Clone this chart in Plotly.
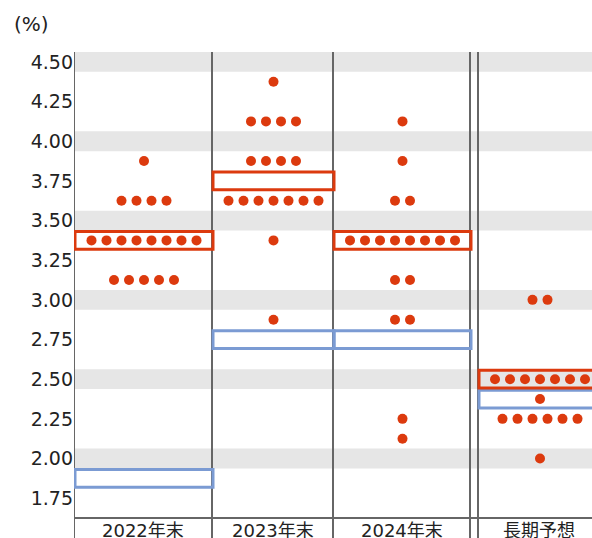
import plotly.graph_objects as go

# ---------------- data ----------------
categories = ["2022年末", "2023年末", "2024年末", "長期予想"]

levels_2022 = [3.875, 3.625, 3.375, 3.125]
counts_2022 = [1, 4, 8, 5]

levels_2023 = [4.375, 4.125, 3.875, 3.625, 3.375, 2.875]
counts_2023 = [1, 4, 4, 7, 1, 1]

levels_2024 = [4.125, 3.875, 3.625, 3.375, 3.125, 2.875, 2.25, 2.125]
counts_2024 = [1, 1, 2, 8, 2, 2, 1, 1]

levels_lr = [3.0, 2.5, 2.375, 2.25, 2.0]
counts_lr = [2, 7, 1, 6, 1]

median_current = [3.375, 3.75, 3.375, 2.5]
median_previous = [1.875, 2.75, 2.75, 2.375]

y_ticks = [1.75, 2.00, 2.25, 2.50, 2.75, 3.00, 3.25, 3.50, 3.75, 4.00, 4.25, 4.50]
band_centers = [2.00, 2.50, 3.00, 3.50, 4.00, 4.50]

# ---------------- layout constants (pixel-like x units) ----------------
col_left = [0, 138, 259, 404]
col_right = [138, 259, 396, 526]
separators = [0, 138, 259, 396, 404]
dot_step = 15
dot_shift = 1
box_half = 0.056
band_half = 0.0625

RED = "#dc3a0e"
BLUE = "#7b9bd3"
GRID = "#e6e6e6"
LINE = "#666666"
TXT = "#222222"
FONT = "DejaVu Sans, Noto Sans CJK JP, sans-serif"

W, H = 592, 538
ML, MR, MT, MB = 74, 0, 52, 20

fig = go.Figure()

all_levels = [levels_2022, levels_2023, levels_2024, levels_lr]
all_counts = [counts_2022, counts_2023, counts_2024, counts_lr]

shapes = []
# gray bands
for b in band_centers:
    shapes.append(dict(type="rect", xref="paper", yref="y", x0=0, x1=1,
                       y0=b - band_half, y1=b + band_half,
                       fillcolor=GRID, line=dict(width=0), layer="below"))
# separators
for s in separators:
    shapes.append(dict(type="line", xref="x", yref="paper", x0=s, x1=s,
                       y0=-0.06, y1=1, line=dict(color=LINE, width=2), layer="below"))
# axis line
shapes.append(dict(type="line", xref="paper", yref="paper", x0=0, x1=1,
                   y0=0, y1=0, line=dict(color=LINE, width=2), layer="below"))
# previous median boxes (blue), then current (red)
for i in range(4):
    m = median_previous[i]
    shapes.append(dict(type="rect", xref="x", yref="y", x0=col_left[i] + 1, x1=col_right[i] + 1,
                       y0=m - box_half, y1=m + box_half,
                       line=dict(color=BLUE, width=3), fillcolor="rgba(0,0,0,0)", layer="below"))
for i in range(4):
    m = median_current[i]
    shapes.append(dict(type="rect", xref="x", yref="y", x0=col_left[i] + 1, x1=col_right[i] + 1,
                       y0=m - box_half, y1=m + box_half,
                       line=dict(color=RED, width=3), fillcolor="rgba(0,0,0,0)", layer="below"))

# dots
for i in range(4):
    center = (col_left[i] + col_right[i]) / 2 + dot_shift
    xs, ys = [], []
    for lv, n in zip(all_levels[i], all_counts[i]):
        for k in range(n):
            xs.append(center + (k - (n - 1) / 2) * dot_step)
            ys.append(lv)
    fig.add_trace(go.Scatter(x=xs, y=ys, mode="markers", name=categories[i],
                             marker=dict(size=10, color=RED, line=dict(width=0)),
                             hoverinfo="y", showlegend=False, cliponaxis=False))

annotations = []
for i in range(4):
    center = (col_left[i] + col_right[i]) / 2
    annotations.append(dict(x=center, y=0, xref="x", yref="paper", text=categories[i],
                            showarrow=False, xanchor="center", yanchor="top", yshift=0,
                            font=dict(family=FONT, size=18, color=TXT)))
annotations.append(dict(x=(12 - ML) / (W - ML - MR), y=1 + (MT - 24) / (H - MT - MB),
                        xref="paper", yref="paper", text="(%)", showarrow=False,
                        xanchor="left", yanchor="middle",
                        font=dict(family=FONT, size=20, color=TXT)))

fig.update_layout(
    width=W, height=H,
    margin=dict(l=ML, r=MR, t=MT, b=MB, pad=0),
    paper_bgcolor="white", plot_bgcolor="white",
    shapes=shapes, annotations=annotations,
    xaxis=dict(range=[0, W - ML - MR], visible=False, fixedrange=True),
    yaxis=dict(range=[1.625, 4.5625], tickvals=y_ticks,
               ticktext=[f"{v:.2f}" for v in y_ticks],
               showgrid=False, zeroline=False, showline=False, ticks="",
               ticklabelstandoff=0,
               tickfont=dict(family=FONT, size=19, color=TXT), fixedrange=True),
    showlegend=False,
)

fig.write_html("out.html", config={"displayModeBar": False},
               post_script="document.body.style.margin='0';document.body.style.overflow='hidden';")
